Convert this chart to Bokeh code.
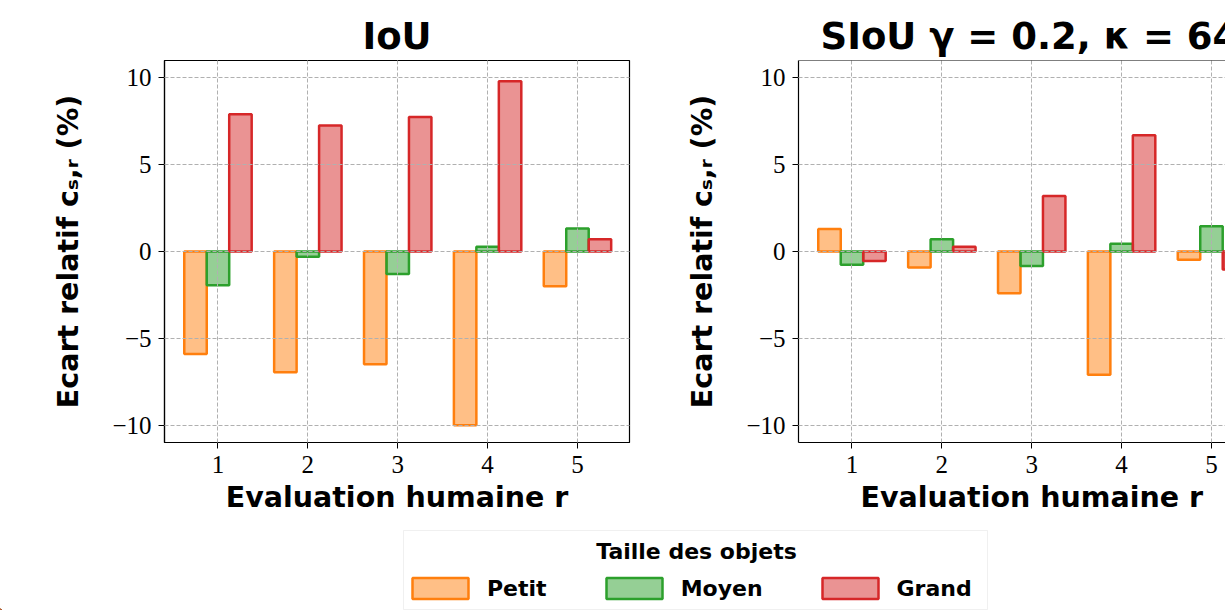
from bokeh.plotting import figure
from bokeh.models import (ColumnDataSource, FixedTicker, Label, Legend, LegendItem,
                          Span, BoxAnnotation, Range1d)
from bokeh.layouts import row, column
from bokeh.transform import dodge
from bokeh.embed import file_html
from bokeh.resources import INLINE

# ---------------- data ----------------
ratings = [1, 2, 3, 4, 5]
iou_petit = [-5.9, -6.95, -6.5, -10.0, -2.0]
iou_moyen = [-1.95, -0.3, -1.3, 0.27, 1.33]
iou_grand = [7.9, 7.25, 7.75, 9.8, 0.7]
siou_petit = [1.3, -0.92, -2.4, -7.1, -0.48]
siou_moyen = [-0.77, 0.7, -0.83, 0.44, 1.45]
siou_grand = [-0.54, 0.27, 3.2, 6.7, -1.04]
y_ticks = [-10, -5, 0, 5, 10]
size_names = ["Petit", "Moyen", "Grand"]
size_keys = ["petit", "moyen", "grand"]
colors = ["#ff7f0e", "#2ca02c", "#d62728"]
offsets = [-0.25, 0.0, 0.25]
titles = ["IoU", "SIoU \u03b3 = 0.2, \u03ba = 64"]
x_label = "Evaluation humaine r"
y_label = "Ecart relatif c\u209b,\u1d63 (%)"
legend_title = "Taille des objets"

SANS = "DejaVu Sans"
SERIF = "Liberation Serif"
PX_PER_UNIT = 89.875
X0 = 0.405


def make_panel(vals, title, width, border_left, border_right, frame_w, outline, xlab_pad=""):
    src = ColumnDataSource(dict(r=ratings, petit=vals[0], moyen=vals[1], grand=vals[2]))
    p = figure(width=width, height=520, x_range=Range1d(X0, X0 + frame_w / PX_PER_UNIT),
               y_range=Range1d(-11, 11), output_backend="svg", toolbar_location=None,
               min_border_left=border_left, min_border_right=border_right,
               min_border_top=60, min_border_bottom=78)
    for k, off, c in zip(size_keys, offsets, colors):
        p.vbar(x=dodge("r", off), top=k, bottom=0, width=0.25, source=src,
               fill_color=c, fill_alpha=0.5, line_color=c, line_width=2.5)
    p.xaxis.ticker = FixedTicker(ticks=ratings)
    p.yaxis.ticker = FixedTicker(ticks=y_ticks)
    p.yaxis.major_label_overrides = {t: str(t).replace("-", "\u2212") for t in y_ticks}
    for ax in (p.xaxis, p.yaxis):
        ax.major_label_text_font = SERIF
        ax.major_label_text_font_size = "25px"
        ax.major_label_text_color = "black"
        ax.major_tick_out = 6
        ax.major_tick_in = 0
        ax.minor_tick_out = 0
        ax.minor_tick_in = 0
        ax.major_tick_line_color = "black"
        ax.major_tick_line_width = 1
        ax.major_label_standoff = 7
        ax.axis_line_color = "black"
        ax.axis_line_width = 1.2
        ax.axis_label_text_font = SANS
        ax.axis_label_text_font_size = "28.5px"
        ax.axis_label_text_font_style = "bold"
        ax.axis_label_text_color = "black"
    p.xaxis.axis_label = xlab_pad + x_label
    p.yaxis.axis_label = y_label
    p.xaxis.axis_label_standoff = 5
    p.yaxis.axis_label_standoff = 24
    for g in (p.xgrid, p.ygrid):
        g.grid_line_color = "#b0b0b0"
        g.grid_line_dash = "4 2"
        g.grid_line_width = 1
        g.level = "guide"
    if outline:
        p.outline_line_color = "black"
        p.outline_line_width = 1.2
        p.outline_line_alpha = 1.0
    else:
        p.outline_line_color = None
        p.add_layout(Span(location=11, dimension="width", line_color="black", line_width=1.2))
    p.title.text = title
    p.title.text_font = SANS
    p.title.text_font_size = "37px"
    p.title.text_font_style = "bold"
    p.title.text_color = "black"
    p.title.standoff = 5
    return p


p1 = make_panel([iou_petit, iou_moyen, iou_grand], titles[0], 640, 164, 11, 465, True)
p1.title.align = "center"

p2 = make_panel([siou_petit, siou_moyen, siou_grand], titles[1], 585, 158, 0, 427, False,
                xlab_pad="\u00a0" * 4)
p2.title.align = "left"
p2.title.offset = 22

# ---------------- legend panel ----------------
leg = figure(width=1225, height=90, x_range=Range1d(0, 1225), y_range=Range1d(0, 90),
             output_backend="svg", toolbar_location=None, min_border=0,
             x_axis_location=None, y_axis_location=None, outline_line_color=None)
leg.grid.visible = False
leg.add_layout(BoxAnnotation(left=403, right=987, bottom=1, top=80, fill_color="white",
                             fill_alpha=0.8, line_color="#cccccc", line_width=1))
items = []
for n, c in zip(size_names, colors):
    r = leg.vbar(x=[-1000], top=[1], width=0.25, fill_color=c, fill_alpha=0.5,
                 line_color=c, line_width=2.5)
    items.append(LegendItem(label=n, renderers=[r]))
leg.add_layout(Label(x=696, y=59, text=legend_title, text_font=SANS, text_font_size="22px",
                     text_font_style="bold", text_color="black", text_align="center",
                     text_baseline="alphabetic"))
legend = Legend(items=items, orientation="horizontal", location=(405, 9), padding=0, margin=0,
                border_line_color=None, background_fill_alpha=0, glyph_width=70,
                glyph_height=26, label_standoff=12, spacing=52, label_text_font=SANS,
                label_text_font_style="bold", label_text_font_size="22px",
                label_text_color="black")
leg.add_layout(legend)

layout = column(row(p1, p2), leg)
open("out.html", "w").write(file_html(layout, INLINE))
